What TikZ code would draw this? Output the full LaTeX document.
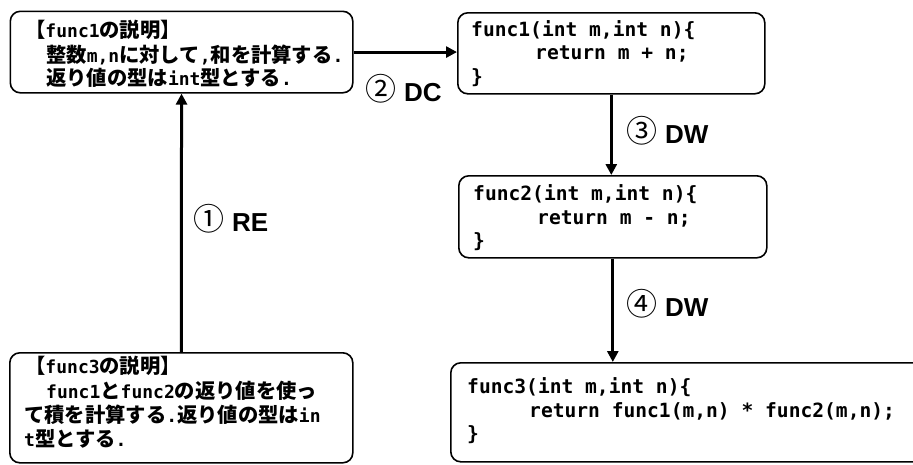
\documentclass[tikz,border=0pt]{standalone}
\usepackage{fontspec}
\setmainfont{Liberation Sans}
\newfontfamily\jpfont{Noto Sans CJK JP}
\newfontfamily\circfont{Noto Sans CJK JP}
\newfontfamily\monofont{DejaVu Sans Mono}
\usetikzlibrary{arrows.meta}

% Japanese description text; Latin runs are set in a monospaced face
\newcommand\jptext{\jpfont\bfseries\fontsize{20.3}{24}\selectfont}
\newcommand\lt[1]{{\monofont\bfseries\fontsize{18}{24}\selectfont #1}}
\newcommand\codesize{\monofont\bfseries\fontsize{19.6}{23.5}\selectfont}
\newcommand\circnum[1]{\raisebox{0.5pt}{\circfont\mdseries\fontsize{31}{31}\selectfont #1}\hspace{8pt}}

\begin{document}
\begin{tikzpicture}[x=1pt, y=-1pt,
  box/.style={draw, line width=1.6pt, rounded corners=10pt, inner sep=0pt, anchor=north west},
  jp/.style={font=\jptext, inner sep=0pt, anchor=base west},
  code/.style={font=\codesize, inner sep=0pt, anchor=base west},
  tag/.style={font=\bfseries\fontsize{26}{30}\selectfont, inner sep=0pt, anchor=base west},
  arr/.style={line width=3pt, -{Triangle[length=11pt,width=11pt]}}]

\fill[white] (0,0) rectangle (913,464);
\useasboundingbox (0,0) rectangle (913,464);

% boxes
\node[box, minimum width=342.5pt, minimum height=81.5pt] (d1) at (9.5,10.5) {};
\node[box, minimum width=307pt, minimum height=81pt] (c1) at (457,12) {};
\node[box, minimum width=308pt, minimum height=82pt] (c2) at (458,175) {};
\node[box, minimum width=343pt, minimum height=110pt] (d3) at (9,352) {};
\node[box, minimum width=490pt, minimum height=99pt] (c3) at (450,362) {};

% description of func1
\node[jp] (d1a) at (25,37) {【\lt{func1}の説明】};
\node[jp] (d1b) at (46,62) {整数\lt{m,n}に対して\lt{,}和を計算する\lt{.}};
\node[jp] (d1c) at (46,85) {返り値の型は\lt{int}型とする\lt{.}};

% description of func3
\node[jp] (d3a) at (25,373) {【\lt{func3}の説明】};
\node[jp] (d3b) at (46,398) {\lt{func1}と\lt{func2}の返り値を使っ};
\node[jp] (d3c) at (24,422) {て積を計算する\lt{.}返り値の型は\lt{in}};
\node[jp] (d3d) at (24,446) {\lt{t}型とする\lt{.}};

% code
\node[code] (c1a) at (471,36) {func1(int m,int n)\{};
\node[code] (c1b) at (535,59.5) {return m + n;};
\node[code] (c1c) at (471,83) {\}};

\node[code] (c2a) at (473,200) {func2(int m,int n)\{};
\node[code] (c2b) at (537,224) {return m - n;};
\node[code] (c2c) at (473,247) {\}};

\node[code] (c3a) at (467,393) {func3(int m,int n)\{};
\node[code] (c3b) at (529,417) {return func1(m,n) * func2(m,n);};
\node[code] (c3c) at (467,440) {\}};

% connectors
\draw[arr] (d3.north) -- (d1.south);
\draw[arr] (d1.east) -- (d1.east -| c1.west);
\draw[arr] (c1.south) -- (c1.south |- c2.north);
\draw[arr] (c2.south) -- (c2.south |- c3.north);

% connector labels
\node[tag] (l1) at (193,231) {\circnum{①}RE};
\node[tag] (l2) at (365,101) {\circnum{②}DC};
\node[tag] (l3) at (626,143) {\circnum{③}DW};
\node[tag] (l4) at (626,316) {\circnum{④}DW};
\end{tikzpicture}
\end{document}
